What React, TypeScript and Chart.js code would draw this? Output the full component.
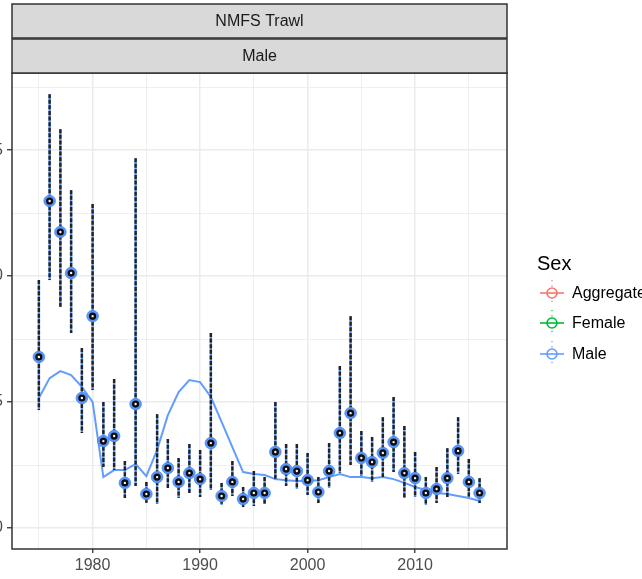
import { useEffect, useRef } from "react";
import { Chart, registerables } from "chart.js";

Chart.register(...registerables);

const years = [1975, 1976, 1977, 1978, 1979, 1980, 1981, 1982, 1983, 1984, 1985, 1986, 1987, 1988, 1989, 1990, 1991, 1992, 1993, 1994, 1995, 1996, 1997, 1998, 1999, 2000, 2001, 2002, 2003, 2004, 2005, 2006, 2007, 2008, 2009, 2010, 2011, 2012, 2013, 2014, 2015, 2016];
const observed = [0.679, 1.298, 1.175, 1.012, 0.516, 0.841, 0.345, 0.365, 0.179, 0.492, 0.135, 0.202, 0.238, 0.183, 0.218, 0.194, 0.337, 0.127, 0.183, 0.115, 0.139, 0.139, 0.302, 0.234, 0.226, 0.19, 0.143, 0.226, 0.377, 0.456, 0.278, 0.262, 0.298, 0.341, 0.218, 0.198, 0.139, 0.155, 0.198, 0.306, 0.183, 0.139];
const upper = [0.984, 1.722, 1.583, 1.341, 0.714, 1.286, 0.5, 0.591, 0.266, 1.468, 0.183, 0.452, 0.353, 0.278, 0.333, 0.31, 0.774, 0.179, 0.266, 0.163, 0.226, 0.202, 0.5, 0.333, 0.333, 0.298, 0.202, 0.337, 0.643, 0.841, 0.385, 0.361, 0.44, 0.52, 0.405, 0.302, 0.202, 0.242, 0.317, 0.44, 0.274, 0.198];
const lower = [0.468, 0.984, 0.877, 0.774, 0.377, 0.548, 0.242, 0.23, 0.119, 0.167, 0.099, 0.095, 0.159, 0.119, 0.139, 0.123, 0.151, 0.091, 0.127, 0.083, 0.087, 0.095, 0.19, 0.167, 0.155, 0.131, 0.099, 0.159, 0.218, 0.25, 0.206, 0.183, 0.202, 0.222, 0.119, 0.123, 0.091, 0.099, 0.123, 0.214, 0.123, 0.099];
const expected = [0.516, 0.595, 0.623, 0.607, 0.56, 0.5, 0.202, 0.23, 0.23, 0.254, 0.206, 0.31, 0.448, 0.54, 0.587, 0.579, 0.52, 0.421, 0.321, 0.222, 0.214, 0.21, 0.194, 0.19, 0.187, 0.187, 0.19, 0.202, 0.214, 0.202, 0.202, 0.198, 0.202, 0.194, 0.179, 0.163, 0.151, 0.139, 0.135, 0.127, 0.119, 0.107];

const yMajorTicks = [0, 0.5, 1.0, 1.5];
const yMinorTicks = [0.25, 0.75, 1.25, 1.75];
const xMajorTicks = [1980, 1990, 2000, 2010];
const xMinorTicks = [1975, 1985, 1995, 2005, 2015];

const stripLabels = ["NMFS Trawl", "Male"];
const legendTitle = "Sex";
const legendLabels = ["Aggregate", "Female", "Male"];
const legendColors = ["#F8766D", "#00BA38", "#619CFF"];

const FONT = '"Liberation Sans", Arial, Helvetica, sans-serif';
const MALE = "#619CFF";

const decorPlugin = {
  id: "decor",
  beforeDatasetDraw(chart: any, args: any) {
    if (args.index !== 1) return;
    const { ctx } = chart;
    const x = chart.scales.x;
    const y = chart.scales.y;
    ctx.save();
    years.forEach((yr, i) => {
      const px = x.getPixelForValue(yr);
      const pt = y.getPixelForValue(upper[i]);
      const pb = y.getPixelForValue(lower[i]);
      ctx.beginPath();
      ctx.setLineDash([]);
      ctx.strokeStyle = MALE;
      ctx.lineWidth = 2.4;
      ctx.moveTo(px, pt);
      ctx.lineTo(px, pb);
      ctx.stroke();
      ctx.beginPath();
      ctx.setLineDash([4, 1.6]);
      ctx.strokeStyle = "#222222";
      ctx.lineWidth = 2.4;
      ctx.moveTo(px, pt);
      ctx.lineTo(px, pb);
      ctx.stroke();
    });
    ctx.restore();
  },
  afterDraw(chart: any) {
    const { ctx, chartArea: ca } = chart;
    ctx.save();
    ctx.setLineDash([]);
    ctx.strokeStyle = "#333333";
    ctx.lineWidth = 1.5;
    ctx.strokeRect(ca.left, ca.top, ca.right - ca.left, ca.bottom - ca.top);
    const stripH = 34;
    stripLabels.forEach((lab, i) => {
      const top = ca.top - stripH * (stripLabels.length - i) - 1 * (stripLabels.length - 1 - i);
      ctx.fillStyle = "#D9D9D9";
      ctx.fillRect(ca.left, top, ca.right - ca.left, stripH);
      ctx.strokeStyle = "#333333";
      ctx.lineWidth = 1.5;
      ctx.strokeRect(ca.left, top, ca.right - ca.left, stripH);
      ctx.fillStyle = "#1A1A1A";
      ctx.font = `16px ${FONT}`;
      ctx.textAlign = "center";
      ctx.textBaseline = "middle";
      ctx.fillText(lab, (ca.left + ca.right) / 2, top + stripH / 2 + 1);
    });
    const lx = ca.right + 30;
    ctx.fillStyle = "#000000";
    ctx.font = `20px ${FONT}`;
    ctx.textAlign = "left";
    ctx.textBaseline = "middle";
    ctx.fillText(legendTitle, lx, 264);
    const ys = [293, 323, 354];
    legendLabels.forEach((lab, i) => {
      const cy = ys[i];
      const cx = ca.right + 45;
      const col = legendColors[i];
      ctx.strokeStyle = col;
      ctx.lineWidth = 1.2;
      ctx.setLineDash([1.2, 4]);
      ctx.beginPath();
      ctx.moveTo(cx, cy - 13);
      ctx.lineTo(cx, cy + 13);
      ctx.stroke();
      ctx.setLineDash([]);
      ctx.lineWidth = 1.6;
      ctx.beginPath();
      ctx.moveTo(cx - 12, cy);
      ctx.lineTo(cx + 12, cy);
      ctx.stroke();
      ctx.beginPath();
      ctx.arc(cx, cy, 5, 0, Math.PI * 2);
      ctx.fillStyle = "#ffffff";
      ctx.fill();
      ctx.stroke();
      ctx.beginPath();
      ctx.moveTo(cx - 5, cy);
      ctx.lineTo(cx + 5, cy);
      ctx.stroke();
      ctx.fillStyle = "#000000";
      ctx.font = `16px ${FONT}`;
      ctx.fillText(lab, ca.right + 65, cy + 1);
    });
    ctx.restore();
  },
};

export default function App() {
  const ref = useRef<HTMLCanvasElement | null>(null);
  useEffect(() => {
    if (!ref.current) return;
    const yTickVals = [...yMajorTicks, ...yMinorTicks].sort((a, b) => a - b);
    const xTickVals = [...xMajorTicks, ...xMinorTicks].sort((a, b) => a - b);
    const isYMajor = (v: number) => yMajorTicks.includes(v);
    const isXMajor = (v: number) => xMajorTicks.includes(v);
    const chart = new Chart(ref.current, {
      type: "scatter",
      data: {
        datasets: [
          {
            type: "line",
            label: "expected",
            data: years.map((yr, i) => ({ x: yr, y: expected[i] })),
            borderColor: MALE,
            borderWidth: 2,
            pointRadius: 0,
            fill: false,
            tension: 0,
            order: 3,
          } as any,
          {
            label: "Male",
            data: years.map((yr, i) => ({ x: yr, y: observed[i] })),
            backgroundColor: "#5B97FA",
            borderColor: "#4A86EE",
            borderWidth: 0.8,
            pointRadius: 5.8,
            order: 2,
          },
          {
            label: "ring",
            data: years.map((yr, i) => ({ x: yr, y: observed[i] })),
            backgroundColor: "#f4f6fb",
            borderColor: "#0d0d0d",
            borderWidth: 2.4,
            pointRadius: 2.4,
            order: 1,
          },
        ],
      },
      options: {
        responsive: false,
        animation: false,
        devicePixelRatio: 1,
        layout: { padding: { left: 0, right: 135, top: 73, bottom: 0 } },
        plugins: { legend: { display: false }, tooltip: { enabled: false } },
        scales: {
          x: {
            type: "linear",
            min: 1972.5,
            max: 2018.55,
            afterBuildTicks: (s: any) => {
              s.ticks = xTickVals.map((v) => ({ value: v }));
            },
            afterFit: (s: any) => {
              s.height = 30;
            },
            border: { display: false },
            grid: {
              color: "#EBEBEB",
              lineWidth: (c: any) => (c.tick && isXMajor(c.tick.value) ? 1.5 : 0.8),
              tickColor: (c: any) => (c.tick && isXMajor(c.tick.value) ? "#333333" : "rgba(0,0,0,0)"),
              tickLength: 4,
              tickWidth: 1.3,
            },
            ticks: {
              autoSkip: false,
              maxRotation: 0,
              padding: 3,
              color: "#4D4D4D",
              font: { family: FONT, size: 16 },
              callback: (v: any) => (isXMajor(Number(v)) ? String(v) : ""),
            },
          },
          y: {
            type: "linear",
            min: -0.0833,
            max: 1.806,
            afterBuildTicks: (s: any) => {
              s.ticks = yTickVals.map((v) => ({ value: v }));
            },
            afterFit: (s: any) => {
              s.width = 52;
            },
            border: { display: false },
            grid: {
              color: "#EBEBEB",
              lineWidth: (c: any) => (c.tick && isYMajor(c.tick.value) ? 1.5 : 0.8),
              tickColor: (c: any) => (c.tick && isYMajor(c.tick.value) ? "#333333" : "rgba(0,0,0,0)"),
              tickLength: 5,
              tickWidth: 1.3,
            },
            ticks: {
              autoSkip: false,
              padding: 4,
              color: "#4D4D4D",
              font: { family: FONT, size: 16 },
              callback: (v: any) => (isYMajor(Number(v)) ? Number(v).toFixed(1) : ""),
            },
          },
        },
      },
      plugins: [decorPlugin],
    });
    return () => chart.destroy();
  }, []);
  return (
    <div style={{ position: "fixed", left: 0, top: 0, width: 642, height: 579, overflow: "hidden", background: "#fff" }}>
      <canvas ref={ref} width={682} height={579} style={{ position: "absolute", left: -40, top: 0, width: 682, height: 579 }} />
    </div>
  );
}
